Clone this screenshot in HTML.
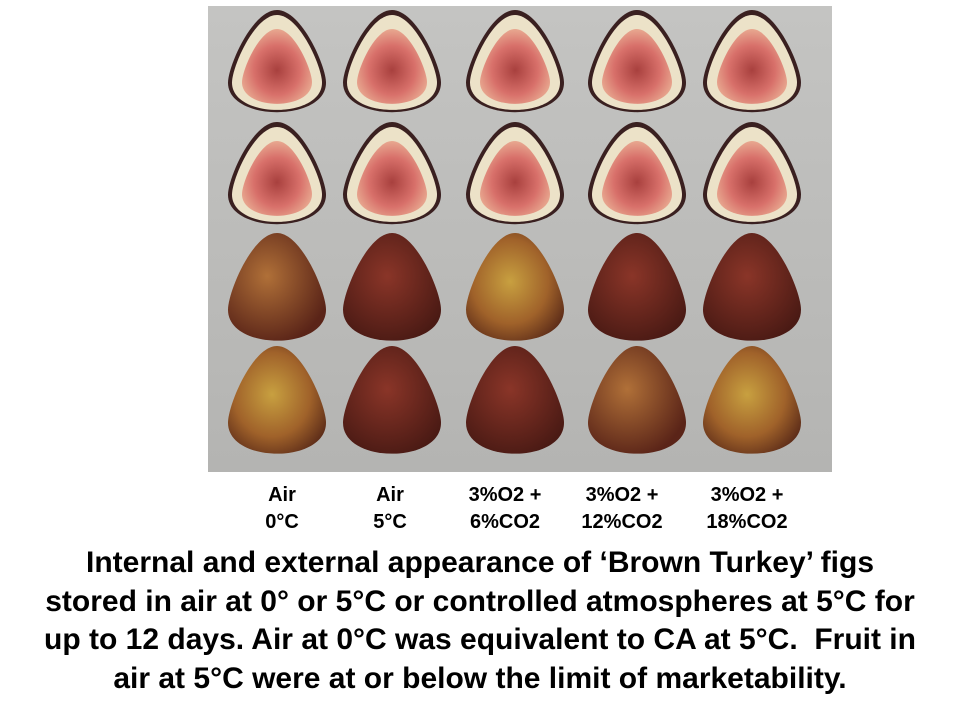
<!DOCTYPE html>
<html><head><meta charset="utf-8">
<style>
html,body{margin:0;padding:0;background:#fff;width:960px;height:720px;overflow:hidden;font-family:"Liberation Sans",Arial,sans-serif;}
.lbl{position:absolute;font-weight:bold;font-size:20px;color:#000;text-align:center;line-height:27px;}
.cap{position:absolute;left:0;width:960px;text-align:center;font-weight:bold;font-size:30px;line-height:38.5px;top:544px;color:#000;}
</style></head><body>
<svg width="960" height="480" style="position:absolute;left:0;top:0">
<defs>
<radialGradient id="flesh" cx="50%" cy="55%" r="55%"><stop offset="0" stop-color="#a8403e"/><stop offset="0.6" stop-color="#d8706a"/><stop offset="1" stop-color="#e8a890"/></radialGradient>
<radialGradient id="dark" cx="45%" cy="40%" r="65%"><stop offset="0" stop-color="#8a3528"/><stop offset="1" stop-color="#4a1a14"/></radialGradient>
<radialGradient id="light" cx="45%" cy="45%" r="65%"><stop offset="0" stop-color="#c8a040"/><stop offset="0.6" stop-color="#a0622a"/><stop offset="1" stop-color="#5a2a18"/></radialGradient>
<radialGradient id="mid" cx="40%" cy="40%" r="65%"><stop offset="0" stop-color="#b07038"/><stop offset="1" stop-color="#5a2418"/></radialGradient>
<linearGradient id="bg" x1="0" y1="0" x2="0" y2="1"><stop offset="0" stop-color="#c4c4c2"/><stop offset="1" stop-color="#b4b4b2"/></linearGradient>
</defs>
<rect x="208" y="6" width="624" height="466" fill="url(#bg)"/>
<g id="figs"></g>
</svg>
<div class="lbl" style="left:252px;top:482px;width:60px">Air<br>0°C</div>
<div class="lbl" style="left:360px;top:482px;width:60px">Air<br>5°C</div>
<div class="lbl" style="left:455px;top:482px;width:100px">3%O2 +<br>6%CO2</div>
<div class="lbl" style="left:572px;top:482px;width:100px">3%O2 +<br>12%CO2</div>
<div class="lbl" style="left:692px;top:482px;width:110px">3%O2 +<br>18%CO2</div>
<div class="cap">Internal and external appearance of ‘Brown Turkey’ figs<br>stored in air at 0° or 5°C or controlled atmospheres at 5°C for<br>up to 12 days. Air at 0°C was equivalent to CA at 5°C.&nbsp; Fruit in<br>air at 5°C were at or below the limit of marketability.</div>
<script>
const cols=[277,392,515,637,752];
const rows=[66,178,292,405];
const whole=[["mid","light"],["dark","dark"],["light","dark"],["dark","mid"],["dark","light"]];
const g=document.getElementById('figs');
const NS='http://www.w3.org/2000/svg';
function fig(cx,cy,w,h){return `M${cx} ${cy-h/2} C${cx+w*0.25} ${cy-h/2} ${cx+w/2} ${cy} ${cx+w/2} ${cy+h*0.15} C${cx+w/2} ${cy+h/2} ${cx-w/2} ${cy+h/2} ${cx-w/2} ${cy+h*0.15} C${cx-w/2} ${cy} ${cx-w*0.25} ${cy-h/2} ${cx} ${cy-h/2}Z`;}
cols.forEach((cx,i)=>{
  rows.forEach((cy,r)=>{
    const grp=document.createElementNS(NS,'g');
    
    
    if(r<2){
      const o=document.createElementNS(NS,'path');
      o.setAttribute('d',fig(cx,cy,98,112));o.setAttribute('fill','#3a2020');grp.appendChild(o);
      const c=document.createElementNS(NS,'path');
      c.setAttribute('d',fig(cx,cy+1,90,104));c.setAttribute('fill','#ece2c8');grp.appendChild(c);
      const f=document.createElementNS(NS,'path');
      f.setAttribute('d',fig(cx,cy+4,70,82));f.setAttribute('fill','url(#flesh)');grp.appendChild(f);
    }else{
      const o=document.createElementNS(NS,'path');
      o.setAttribute('d',fig(cx,cy,98,118));o.setAttribute('fill','url(#'+whole[i][r-2]+')');grp.appendChild(o);
    }
    g.appendChild(grp);
  });
});
</script>
</body></html>
